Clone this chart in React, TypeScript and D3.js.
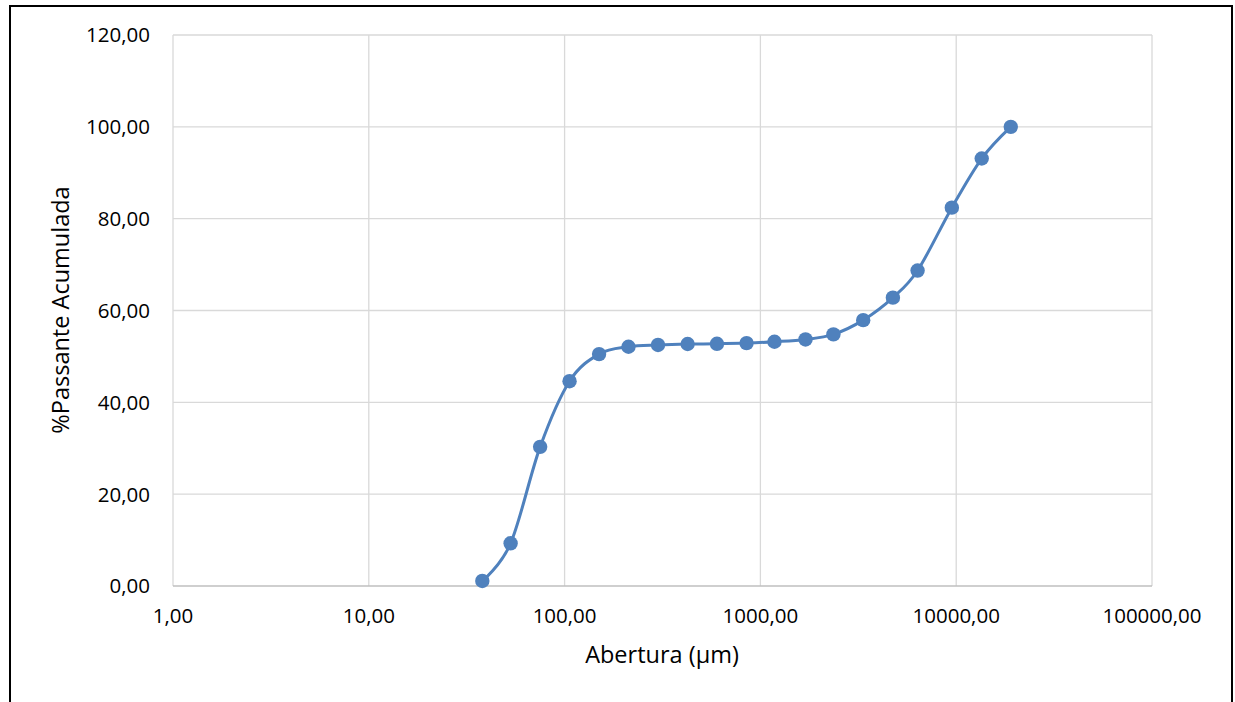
import React, { useEffect, useRef } from "react";
import * as d3 from "d3";

const aberturas: number[] = [38, 53, 75, 106, 150, 212, 300, 425, 600, 850, 1180, 1700, 2360, 3350, 4750, 6350, 9500, 13500, 19000];
const passante: number[] = [1.1, 9.3, 30.3, 44.6, 50.5, 52.1, 52.5, 52.7, 52.75, 52.9, 53.2, 53.7, 54.8, 57.9, 62.8, 68.7, 82.4, 93.1, 100.0];
const xTicks: number[] = [1, 10, 100, 1000, 10000, 100000];
const yTicks: number[] = [0, 20, 40, 60, 80, 100, 120];
const xTitle = "Abertura (µm)";
const yTitle = "%Passante Acumulada";

const W = 1235;
const H = 702;
const FONT = "'Open Sans', 'Liberation Sans', sans-serif";

export default function App() {
  const ref = useRef<SVGSVGElement | null>(null);

  useEffect(() => {
    const svg = d3.select(ref.current);
    svg.selectAll("*").remove();

    const left = 173, right = 1152, top = 35, bottom = 586;
    const x = d3.scaleLog().domain([1, 100000]).range([left, right]);
    const y = d3.scaleLinear().domain([0, 120]).range([bottom, top]);
    const fmt = (v: number) => d3.format(".2f")(v).replace(".", ",");

    svg.append("rect").attr("x", 0).attr("y", 0).attr("width", W).attr("height", H).attr("fill", "#fff");
    svg.append("rect").attr("x", 10).attr("y", 6).attr("width", 1222).attr("height", 720)
      .attr("fill", "none").attr("stroke", "#000").attr("stroke-width", 2);

    const grid = svg.append("g");
    yTicks.forEach((t) => {
      if (t === 0) return;
      grid.append("line").attr("x1", left).attr("x2", right).attr("y1", y(t)).attr("y2", y(t))
        .attr("stroke", "#d9d9d9").attr("stroke-width", 1.3);
    });
    xTicks.forEach((t) => {
      grid.append("line").attr("x1", x(t)).attr("x2", x(t)).attr("y1", top).attr("y2", bottom)
        .attr("stroke", "#d9d9d9").attr("stroke-width", 1.3);
    });
    svg.append("line").attr("x1", left).attr("x2", right).attr("y1", bottom).attr("y2", bottom)
      .attr("stroke", "#bfbfbf").attr("stroke-width", 1.3);

    const yl = svg.append("g").attr("font-family", FONT).attr("font-size", 20.5).attr("fill", "#000");
    yTicks.forEach((t) => {
      yl.append("text").attr("x", 150).attr("y", y(t)).attr("dy", "0.36em").attr("text-anchor", "end").text(fmt(t));
    });
    xTicks.forEach((t) => {
      yl.append("text").attr("x", x(t)).attr("y", 623).attr("text-anchor", "middle").text(fmt(t));
    });

    svg.append("text").attr("x", 662).attr("y", 663).attr("text-anchor", "middle")
      .attr("font-family", FONT).attr("font-size", 23.5).text(xTitle);
    svg.append("text").attr("transform", "translate(69,310) rotate(-90)").attr("text-anchor", "middle")
      .attr("font-family", FONT).attr("font-size", 23.5).text(yTitle);

    const pts = aberturas.map((a, i) => [x(a), y(passante[i])] as [number, number]);
    const line = d3.line().curve(d3.curveCatmullRom.alpha(0));
    svg.append("path").attr("d", line(pts)).attr("fill", "none").attr("stroke", "#4f81bd")
      .attr("stroke-width", 3).attr("stroke-linecap", "round");
    svg.append("g").selectAll("circle").data(pts).join("circle")
      .attr("cx", (d) => d[0]).attr("cy", (d) => d[1]).attr("r", 7.2).attr("fill", "#4f81bd");
  }, []);

  return (
    <svg ref={ref} width={W} height={H} style={{ position: "absolute", left: 0, top: 0 }} />
  );
}
